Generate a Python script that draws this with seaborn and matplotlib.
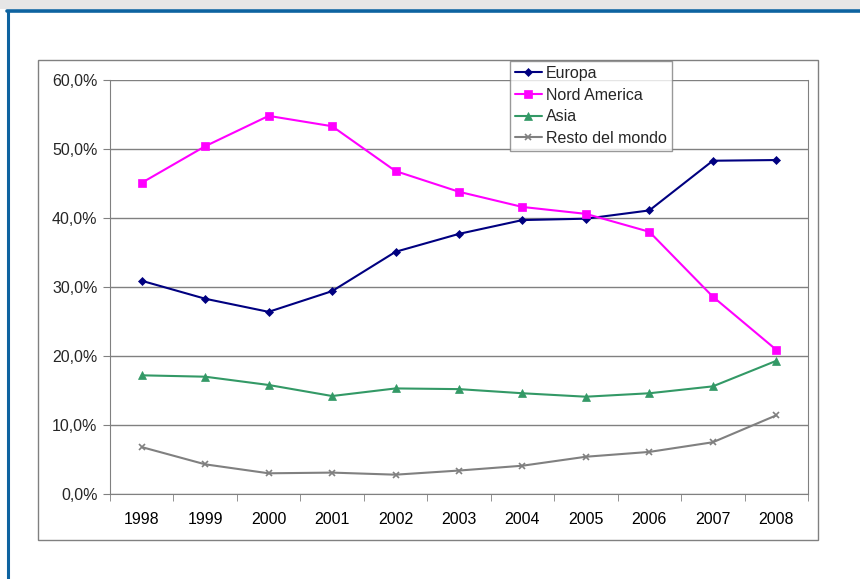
import pandas as pd
import numpy as np
import matplotlib.pyplot as plt
import matplotlib.ticker as mticker
from matplotlib.patches import Rectangle
from matplotlib.lines import Line2D
import seaborn as sns

# Values (share in %)
years = ['1998', '1999', '2000', '2001', '2002', '2003', '2004', '2005', '2006', '2007', '2008']
europa = [30.9, 28.3, 26.4, 29.4, 35.1, 37.7, 39.7, 39.9, 41.1, 48.3, 48.4]
nord_america = [45.1, 50.4, 54.8, 53.3, 46.8, 43.8, 41.6, 40.6, 38.0, 28.6, 20.9]
asia = [17.2, 17.0, 15.8, 14.2, 15.3, 15.2, 14.6, 14.1, 14.6, 15.6, 19.3]
resto = [6.8, 4.3, 3.0, 3.1, 2.8, 3.4, 4.1, 5.4, 6.1, 7.5, 11.4]

series = ['Europa', 'Nord America', 'Asia', 'Resto del mondo']
colors = {'Europa': '#000080', 'Nord America': '#FF00FF',
          'Asia': '#339966', 'Resto del mondo': '#808080'}
markers = {'Europa': 'D', 'Nord America': 's', 'Asia': '^', 'Resto del mondo': 'x'}
msize = {'Europa': 4.2, 'Nord America': 5.2, 'Asia': 5.2, 'Resto del mondo': 5.0}

df = pd.DataFrame({
    'anno': years * 4,
    'valore': europa + nord_america + asia + resto,
    'area': sum([[s] * len(years) for s in series], []),
})

sns.set_style('white')
plt.rcParams['font.family'] = ['Liberation Sans', 'DejaVu Sans']
FS = 11.5

W, H = 860, 579
fig = plt.figure(figsize=(W / 100, H / 100), dpi=100)

# outer decoration: shadow, blue frame, chart-area box
fig.patches.append(Rectangle((0, 1 - 9 / H), 1, 9 / H, transform=fig.transFigure,
                             facecolor='#E6E6E6', edgecolor='none', zorder=0))
fig.lines.append(Line2D([7 / W, 1], [1 - 11 / H, 1 - 11 / H], transform=fig.transFigure,
                        color='#0E63A0', linewidth=2.6))
fig.lines.append(Line2D([8 / W, 8 / W], [0, 1 - 11 / H], transform=fig.transFigure,
                        color='#0E63A0', linewidth=2.2))
fig.patches.append(Rectangle((38 / W, 1 - 540 / H), (818 - 38) / W, (540 - 60) / H,
                             transform=fig.transFigure, facecolor='none',
                             edgecolor='#808080', linewidth=1.0))

ax = fig.add_axes([110 / W, 1 - 494 / H, (808 - 110) / W, (494 - 80) / H])

for s in series:
    sub = df[df['area'] == s]
    sns.lineplot(data=sub, x='anno', y='valore', ax=ax, color=colors[s],
                 marker=markers[s], markersize=msize[s], markeredgecolor=colors[s],
                 markeredgewidth=1.2 if s == 'Resto del mondo' else 0.5,
                 linewidth=1.5, label=s, sort=False)

ax.set_xlim(-0.5, len(years) - 0.5)
ax.set_ylim(0, 60)
ax.yaxis.set_major_locator(mticker.MultipleLocator(10))
ax.yaxis.set_major_formatter(mticker.FuncFormatter(lambda v, p: f'{v:.1f}%'.replace('.', ',')))
ax.grid(axis='y', color='#808080', linewidth=1.0)
ax.set_axisbelow(True)
ax.set_xlabel('')
ax.set_ylabel('')

ax.spines['top'].set_visible(False)
for side in ['right', 'left', 'bottom']:
    ax.spines[side].set_color('#808080')

ax.set_xticks(range(len(years)))
ax.set_xticklabels(years)
ax.set_xticks(np.arange(-0.5, len(years)), minor=True)
ax.tick_params(axis='x', which='major', length=0, pad=13, labelsize=FS, colors='black')
ax.tick_params(axis='x', which='minor', length=5, color='#808080', direction='out', bottom=True)
ax.tick_params(axis='y', which='major', length=5, color='#808080', direction='out',
               labelsize=FS, pad=4, left=True)

leg = ax.legend(loc='upper left', bbox_to_anchor=(510 / W, 1 - 61 / H),
                bbox_transform=fig.transFigure, frameon=True, fancybox=False,
                fontsize=FS, handlelength=1.7, handletextpad=0.25,
                labelspacing=0.42, borderpad=0.3, borderaxespad=0)
leg.get_frame().set_edgecolor('#808080')
leg.get_frame().set_linewidth(1.0)

fig.savefig('out.png', dpi=100)
